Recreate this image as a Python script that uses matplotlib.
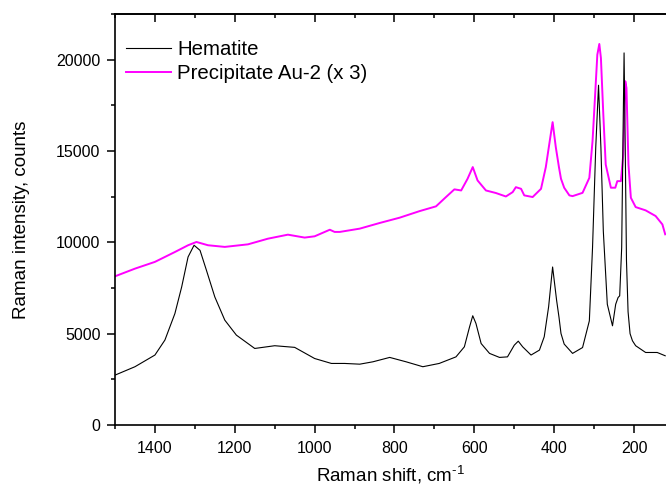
import matplotlib
matplotlib.use('Agg')
import matplotlib.pyplot as plt
from matplotlib.ticker import MultipleLocator

plt.rcParams['font.family'] = ['Liberation Sans', 'DejaVu Sans']
plt.rcParams['mathtext.fontset'] = 'custom'
plt.rcParams['mathtext.rm'] = 'Liberation Sans'

# Hematite spectrum
hem_shift = [1500, 1450, 1400, 1375, 1350, 1333, 1317, 1302, 1287, 1271, 1250, 1225,
             1196, 1150, 1100, 1050, 1000, 958, 925, 887, 854, 812, 771, 729, 688,
             646, 625, 612, 604, 596, 583, 562, 537, 517, 500, 490, 479, 458, 437,
             425, 414, 404, 394, 388, 383, 375, 354, 329, 312, 304, 296, 289, 283,
             277, 267, 254, 246, 240, 236, 231, 228, 225, 222, 219, 215, 210, 204,
             196, 171, 142, 122]
hem_int = [2730, 3190, 3830, 4650, 6100, 7560, 9200, 9840, 9560, 8470, 7010, 5740,
           4920, 4190, 4340, 4250, 3640, 3370, 3370, 3330, 3460, 3700, 3460, 3190, 3370,
           3730, 4280, 5370, 5980, 5560, 4460, 3920, 3700, 3730, 4370, 4590, 4280, 3830, 4100,
           4830, 6470, 8650, 6830, 5900, 5010, 4430, 3920, 4240, 5700, 9710, 15170, 18600, 15170,
           10620, 6610, 5430, 6610, 6980, 7070, 9710, 15170, 20370, 15000, 9000, 6200, 5000, 4610,
           4340, 3970, 3970, 3790]

# Precipitate Au-2, already multiplied by 3
pre_shift = [1500, 1450, 1400, 1350, 1317, 1296, 1267, 1225, 1167, 1117, 1067, 1025,
             1000, 962, 950, 937, 887, 837, 787, 737, 696, 671, 650, 633, 617, 604,
             592, 571, 546, 521, 504, 496, 483, 475, 454, 433, 421, 411, 404, 396,
             388, 383, 375, 362, 354, 329, 312, 304, 297, 292, 287, 283, 277, 271,
             258, 247, 242, 233, 227, 222, 219, 214, 208, 196, 171, 146, 129, 122]
pre_int = [8140, 8560, 8930, 9470, 9840, 10020, 9840, 9750, 9890, 10200, 10420, 10260,
           10330, 10690, 10570, 10570, 10750, 11060, 11350, 11710, 11970, 12480, 12900, 12840, 13480, 14120,
           13390, 12840, 12700, 12510, 12750, 13020, 12930, 12570, 12480, 12930, 14120, 15570, 16580, 15210,
           14100, 13480, 12990, 12570, 12530, 12710, 13530, 15540, 18270, 20270, 20860, 20090, 17000, 14260,
           12990, 12990, 13350, 13350, 14810, 18820, 18450, 14260, 12440, 11930, 11750, 11440, 10980, 10440]

fig = plt.figure(figsize=(6.66, 4.9), dpi=100)
ax = fig.add_axes([115/666, 65/490, 551/666, 411/490])

l2, = ax.plot(pre_shift, pre_int, color='#ff00ff', lw=1.4, label='Precipitate Au-2 (x 3)')
l1, = ax.plot(hem_shift, hem_int, color='black', lw=0.8, label='Hematite')

ax.set_xlim(1500, 120)
ax.set_ylim(0, 22500)
ax.xaxis.set_major_locator(MultipleLocator(200))
ax.xaxis.set_minor_locator(MultipleLocator(100))
ax.yaxis.set_major_locator(MultipleLocator(5000))
ax.yaxis.set_minor_locator(MultipleLocator(2500))

for s in ['left', 'bottom', 'top']:
    ax.spines[s].set_linewidth(1.2)
ax.spines['right'].set_visible(False)

ax.tick_params(which='major', direction='out', length=5.5, width=1.1, labelsize=11.5)
ax.tick_params(which='minor', direction='out', length=3, width=1.1)
ax.tick_params(axis='x', which='major', pad=6)
ax.tick_params(axis='y', which='major', pad=5)

# ticks on the top axis point into the plot
top = ax.secondary_xaxis('top')
top.xaxis.set_major_locator(MultipleLocator(200))
top.xaxis.set_minor_locator(MultipleLocator(100))
top.tick_params(which='major', direction='in', length=5.5, width=1.1, labeltop=False)
top.tick_params(which='minor', direction='in', length=3, width=1.1)
top.spines['top'].set_linewidth(1.2)

ax.set_xlabel(r'Raman shift, cm$^{\text{-1}}$', fontsize=13.5, labelpad=5)
ax.set_ylabel('Raman intensity, counts', fontsize=13.5, labelpad=19)

ax.legend(handles=[l1, l2], loc='upper left', bbox_to_anchor=(0.02, 0.937),
          frameon=False, fontsize=14.7, handlelength=2.2, handletextpad=0.3,
          labelspacing=0.27, borderaxespad=0, borderpad=0)

fig.savefig('out.png', dpi=100)
